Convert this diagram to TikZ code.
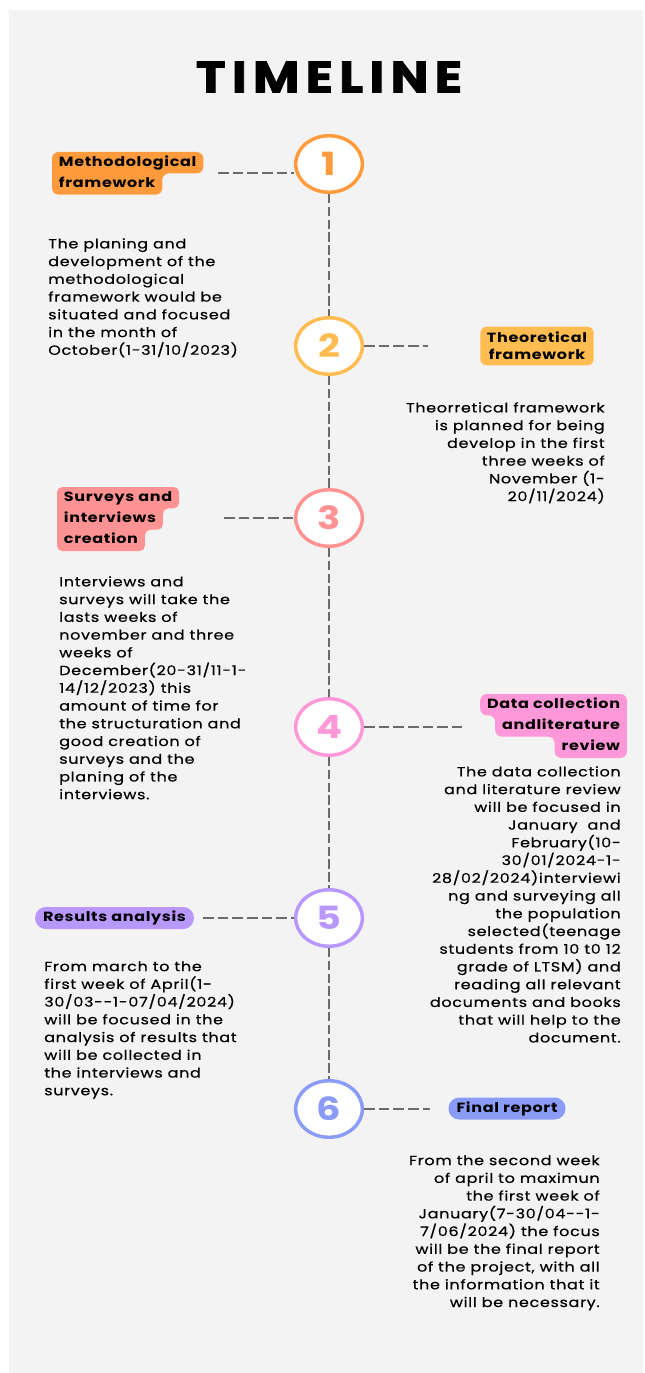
\documentclass[tikz,border=0pt]{standalone}
\usepackage{fontspec}
\setmainfont{Poppins}[FakeStretch=1.2, LetterSpace=5, UprightFeatures={FakeBold=0.4}]
\newfontfamily\titlefont{Poppins}[FakeStretch=1.15, LetterSpace=14, BoldFeatures={FakeBold=1.8}]
\usetikzlibrary{shapes.geometric}
\usetikzlibrary{positioning}

\definecolor{panelgrey}{HTML}{F3F3F3}
\definecolor{linkgrey}{HTML}{6B6B6B}
\definecolor{orangeA}{HTML}{FF9B3C}
\definecolor{amberA}{HTML}{FFBC50}
\definecolor{salmonA}{HTML}{FF9292}
\definecolor{pinkA}{HTML}{FF98D8}
\definecolor{lilacA}{HTML}{B898FC}
\definecolor{blueA}{HTML}{8B9CF7}

\newcommand{\notefont}{\fontsize{10}{13.3}\selectfont}
\newcommand{\tagfont}{\fontsize{10}{13}\selectfont\bfseries}

\pgfdeclarelayer{panel}
\pgfdeclarelayer{highlight}
\pgfsetlayers{panel,highlight,main}

\tikzset{
  stage/.style={ellipse, draw=#1, fill=white, line width=2.6pt,
    minimum width=50pt, minimum height=42.4pt, inner sep=0pt, text=#1,
    font=\fontsize{24}{24}\selectfont\bfseries},
  note/.style={font=\notefont, inner sep=0pt},
  tagline/.style={font=\tagfont, inner xsep=5pt, inner ysep=0pt,
    minimum height=15.6pt, text height=7.5pt, text depth=2.2pt},
  tagbox/.style={fill=#1, font=\tagfont, rounded corners=5pt,
    inner xsep=5pt, inner ysep=4pt},
  pill/.style={fill=#1, font=\tagfont, rounded corners=8pt,
    minimum height=16.5pt, inner xsep=6pt, text height=7.5pt, text depth=2.2pt},
  link/.style={draw=linkgrey, line width=1.6pt, dash pattern=on 8pt off 3pt},
  spine/.style={draw=linkgrey, line width=1.4pt, dash pattern=on 7pt off 2.6pt}
}

\begin{document}
\begin{tikzpicture}[x=0.75pt,y=-0.75pt]
  \useasboundingbox (0,0) rectangle (645,1373);
  \begin{pgfonlayer}{panel}
    \fill[panelgrey] (9,10) rectangle (643,1373);
  \end{pgfonlayer}

  % title
  \node[font=\titlefont\bfseries\fontsize{33}{33}\selectfont] (title) at (329,77) {TIMELINE};

  % stages
  \node[stage=orangeA] (c1) at (329,164) {1};
  \node[stage=amberA] (c2) at (329,346) {2};
  \node[stage=salmonA] (c3) at (329,518) {3};
  \node[stage=pinkA] (c4) at (329,727) {4};
  \node[stage=lilacA] (c5) at (329,918) {5};
  \node[stage=blueA] (c6) at (329,1109) {6};

  \foreach \a/\b in {c1/c2,c2/c3,c3/c4,c4/c5,c5/c6}
    \draw[spine] (\a.south) -- (\b.north);

  % tags
  \node[tagline, anchor=north west] (t1a) at (52,152) {Methodological};
  \node[tagline, anchor=north west] (t1b) at (t1a.south west) {framework};
  \node[tagbox=amberA, align=center] (t2) at (537,346) {Theoretical\\framework};
  \node[tagline, anchor=north west] (t3a) at (57,487) {Surveys and};
  \node[tagline, anchor=north west] (t3b) at (t3a.south west) {interviews};
  \node[tagline, anchor=north west] (t3c) at (t3b.south west) {creation};
  \node[tagline, anchor=north east] (t4a) at (627,694) {Data collection};
  \node[tagline, anchor=north east] (t4b) at (t4a.south east) {andliterature};
  \node[tagline, anchor=north east] (t4c) at (t4b.south east) {review};
  \node[pill=lilacA] (t5) at (114.5,918) {Results analysis};
  \node[pill=blueA] (t6) at (507,1108.5) {Final report};

  \begin{pgfonlayer}{highlight}
    \fill[orangeA, rounded corners=5pt] (t1a.north west) -- (t1a.north east) -- (t1a.south east)
      -- (t1b.north east) -- (t1b.south east) -- (t1b.south west) -- cycle;
    \fill[salmonA, rounded corners=4pt] (t3a.north west) -- (t3a.north east) -- (t3a.south east)
      -- (t3b.north east) -- (t3b.south east) -- (t3c.north east) -- (t3c.south east)
      -- (t3c.south west) -- cycle;
    \fill[pinkA, rounded corners=5pt] (t4a.north west) -- (t4a.north east) -- (t4c.south east)
      -- (t4c.south west) -- (t4c.north west) -- (t4b.south west) -- (t4b.north west)
      -- (t4a.south west) -- cycle;
  \end{pgfonlayer}

  % links
  \coordinate (k1) at (218,173);
  \coordinate (k2) at (428,346);
  \coordinate (k3) at (224,518);
  \coordinate (k4) at (462,727);
  \coordinate (k5) at (203,918);
  \coordinate (k6) at (430,1109);
  \draw[link] (k1) -- (k1 -| c1.west);
  \draw[link] (c2.east) -- (k2);
  \draw[link] (k3) -- (c3.west);
  \draw[link] (c4.east) -- (k4);
  \draw[link] (k5) -- (c5.west);
  \draw[link] (c6.east) -- (k6);

  % notes
  \node[note, anchor=north west, align=left] (d1) at (48,238) {The planing and\\
    development of the\\methodological\\framework would be\\situated and focused\\
    in the month of\\October(1-31/10/2023)};
  \node[note, anchor=north east, align=right] (d2) at (605,402) {Theorretical framework\\
    is planned for being\\develop in the first\\three weeks of\\November (1-\\20/11/2024)};
  \node[note, anchor=north west, align=left] (d3) at (59,576) {Interviews and\\
    surveys will take the\\lasts weeks of\\november and three\\weeks of\\
    December(20-31/11-1-\\14/12/2023) this\\amount of time for\\the structuration and\\
    good creation of\\surveys and the\\planing of the\\interviews.};
  \node[note, anchor=north east, align=right] (d4) at (621,766) {The data collection\\
    and literature review\\will be focused in\\January~ and\\February(10-\\
    30/01/2024-1-\\28/02/2024)interviewi\\ng and surveying all\\the population\\
    selected(teenage\\students from 10 t0 12\\grade of LTSM) and\\reading all relevant\\
    documents and books\\that will help to the\\document.};
  \node[note, anchor=north west, align=left] (d5) at (44,961) {From march to the\\
    first week of April(1-\\30/03-{}-1-07/04/2024)\\will be focused in the\\
    analysis of results that\\will be collected in\\the interviews and\\surveys.};
  \node[note, anchor=north east, align=right] (d6) at (600,1155) {From the second week\\
    of april to maximun\\the first week of\\January(7-30/04-{}-1-\\7/06/2024) the focus\\
    will be the final report\\of the project, with all\\the information that it\\
    will be necessary.};
\end{tikzpicture}
\end{document}
